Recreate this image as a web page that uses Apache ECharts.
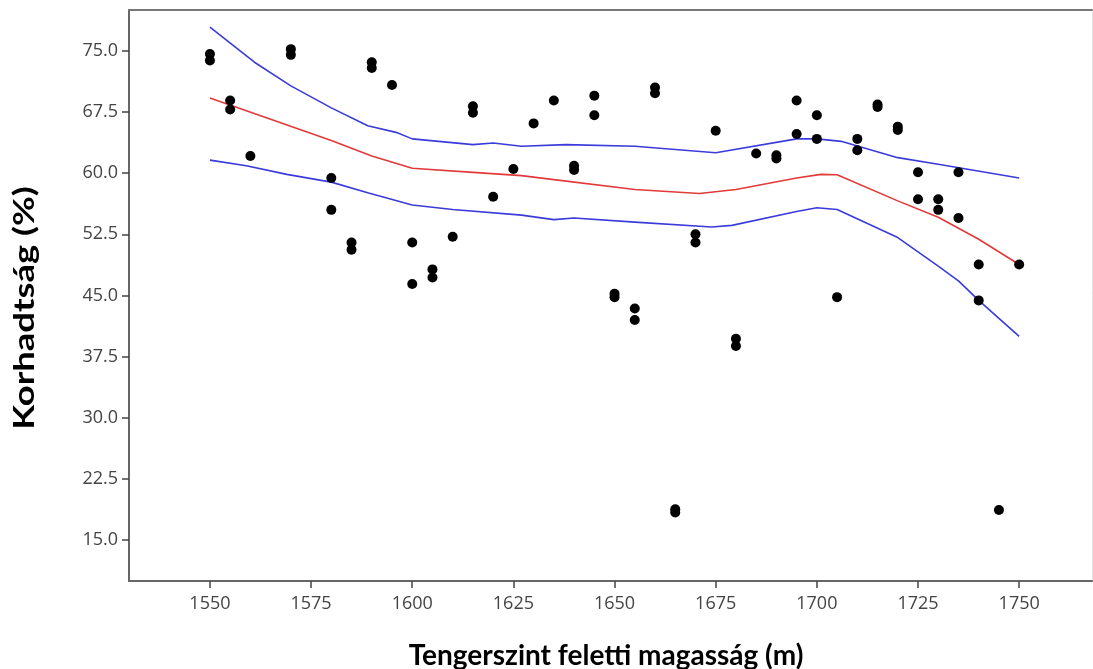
<!DOCTYPE html>
<html>
<head>
<meta charset="utf-8">
<script src="https://cdn.jsdelivr.net/npm/echarts@6/dist/echarts.min.js"></script>
<style>
html,body{margin:0;padding:0;background:#fff;}
#c{width:1093px;height:669px;}
</style>
</head>
<body>
<div id="c"></div>
<script>
// Scatter observations: elevation (m) and decay (%)
const pointX = [1550,1550,1555,1555,1560,1570,1570,1580,1580,1585,1585,1590,1590,1595,1600,1600,1605,1605,1610,1615,1615,1620,1625,1630,1635,1640,1640,1645,1645,1650,1650,1655,1655,1660,1660,1665,1665,1670,1670,1675,1680,1680,1685,1690,1690,1695,1695,1700,1700,1705,1710,1710,1715,1715,1720,1720,1725,1725,1730,1730,1735,1735,1740,1740,1745,1750];
const pointY = [74.6,73.8,68.9,67.8,62.1,75.2,74.5,59.4,55.5,51.5,50.6,73.6,72.9,70.8,51.5,46.4,48.2,47.2,52.2,68.2,67.4,57.1,60.5,66.1,68.9,60.9,60.4,69.5,67.1,45.2,44.8,43.4,42.0,70.5,69.8,18.8,18.4,52.5,51.5,65.2,39.7,38.8,62.4,62.2,61.8,68.9,64.8,67.1,64.2,44.8,64.2,62.8,68.4,68.1,65.7,65.3,60.1,56.8,56.8,55.5,60.1,54.5,48.8,44.4,18.7,48.8];

// Fit line (red)
const fitX = [1550,1580,1590,1600,1615,1627,1635,1655,1671,1680,1695,1701,1705,1720,1730,1740,1750];
const fitY = [69.2,64.0,62.1,60.6,60.1,59.7,59.2,58.0,57.5,58.0,59.4,59.85,59.8,56.6,54.6,51.9,48.8];

// Upper confidence band (blue)
const upperX = [1550,1561,1570,1580,1589,1596,1600,1615,1620,1627,1638,1655,1675,1695,1700,1706,1720,1730,1750];
const upperY = [77.9,73.6,70.7,68.0,65.8,65.0,64.2,63.5,63.7,63.3,63.5,63.3,62.5,64.2,64.2,63.9,61.9,61.1,59.4];

// Lower confidence band (blue)
const lowerX = [1550,1559,1569,1580,1589,1600,1610,1627,1635,1640,1655,1674,1679,1695,1700,1705,1720,1730,1735,1740,1750];
const lowerY = [61.6,60.9,59.85,58.9,57.6,56.1,55.55,54.85,54.3,54.5,54.0,53.4,53.6,55.3,55.75,55.55,52.1,48.6,46.8,44.4,40.0];

// Tick labels
const xTicks = [1550,1575,1600,1625,1650,1675,1700,1725,1750];
const yTicks = [15,22.5,30,37.5,45,52.5,60,67.5,75];

// Axis titles
const xTitle = 'Tengerszint feletti magasság (m)';
const yTitle = 'Korhadtság (%)';

const zip = (a,b) => a.map((v,i)=>[v,b[i]]);

const chart = echarts.init(document.getElementById('c'), null, {renderer:'canvas'});
const labelFont = {fontFamily:'Open Sans', fontSize:18, color:'#444'};
const titleFont = 'bold 28px Lato';
chart.setOption({
  animation:false,
  grid:{left:129,top:10,right:1,bottom:88,show:false},
  xAxis:[{
    type:'value', min:1530, max:1768,
    axisLine:{show:true,lineStyle:{color:'#666',width:2}},
    axisTick:{show:true,length:7,lineStyle:{color:'#444',width:1.5},customValues:xTicks},
    axisLabel:Object.assign({margin:14,customValues:xTicks,formatter:v=>String(v)},labelFont),
    splitLine:{show:false}
  },{
    type:'value', min:1530, max:1768, position:'top',
    axisLine:{show:true,lineStyle:{color:'#777',width:2}},
    axisTick:{show:false}, axisLabel:{show:false}, splitLine:{show:false}
  }],
  yAxis:[{
    type:'value', min:10, max:80,
    axisLine:{show:true,lineStyle:{color:'#666',width:2}},
    axisTick:{show:true,length:7,lineStyle:{color:'#444',width:1.5},customValues:yTicks},
    axisLabel:Object.assign({margin:11,customValues:yTicks,formatter:v=>v.toFixed(1)},labelFont),
    splitLine:{show:false}
  },{
    type:'value', min:10, max:80, position:'right',
    axisLine:{show:true,lineStyle:{color:'#e4e4e4',width:1}},
    axisTick:{show:false}, axisLabel:{show:false}, splitLine:{show:false}
  }],
  graphic:[
    {type:'text', x:606, y:656, style:{text:xTitle, font:titleFont, fill:'#000', align:'center', verticalAlign:'middle'}},
    {type:'text', x:25, y:308, rotation:Math.PI/2, scaleX:1.3, style:{text:yTitle, font:titleFont, fill:'#000', align:'center', verticalAlign:'middle'}}
  ],
  series:[
    {type:'line',data:zip(upperX,upperY),symbol:'none',lineStyle:{color:'#3b3bdb',width:1.6},z:2},
    {type:'line',data:zip(lowerX,lowerY),symbol:'none',lineStyle:{color:'#3b3bdb',width:1.6},z:2},
    {type:'line',data:zip(fitX,fitY),symbol:'none',lineStyle:{color:'#e23a3a',width:1.6},z:2},
    {type:'scatter',data:zip(pointX,pointY),symbol:'circle',symbolSize:10,itemStyle:{color:'#000',opacity:1},z:5}
  ]
});
</script>
</body>
</html>
